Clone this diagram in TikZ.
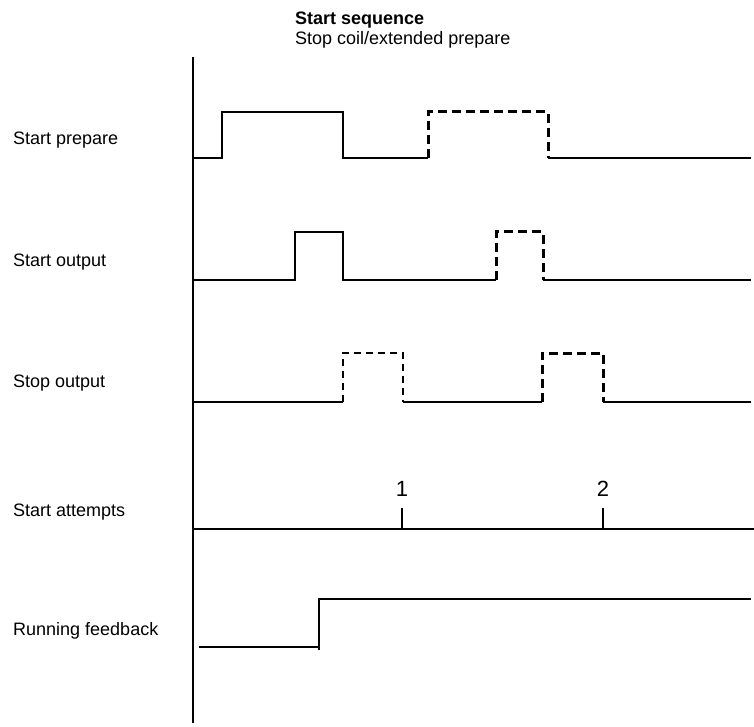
\documentclass[tikz,border=0pt]{standalone}
\usepackage{fontspec}
\setmainfont{Liberation Sans}
\begin{document}
\begin{tikzpicture}[x=1pt,y=-1pt,
  lbl/.style={anchor=base west,inner sep=0pt,font=\fontsize{18}{20}\selectfont},
  num/.style={anchor=base,inner sep=0pt,font=\fontsize{22}{24}\selectfont},
  sig/.style={line width=1.5pt},
  thickdash/.style={line width=3pt,dash pattern=on 9pt off 5pt},
  thindash/.style={line width=1.4pt,dash pattern=on 7pt off 5pt}]
\useasboundingbox (0,0) rectangle (754,727);
% title
\node[lbl,font=\fontsize{18}{20}\selectfont\bfseries] (t1) at (295,25) {Start sequence};
\node[lbl] (t2) at (295,45) {Stop coil/extended prepare};
% axis
\coordinate (axtop) at (193,57);
\coordinate (axbot) at (193,723);
\draw[sig] (axtop) -- (axbot);
% labels
\node[lbl] (l1) at (13,145) {Start prepare};
\node[lbl] (l2) at (13,266) {Start output};
\node[lbl] (l3) at (13,387) {Stop output};
\node[lbl] (l4) at (13,516) {Start attempts};
\node[lbl] (l5) at (13,635) {Running feedback};
% Start prepare
\draw[sig] (193,158) -- (222,158) -- (222,112) -- (343,112) -- (343,158) -- (428,158);
\draw[thickdash] (428,158) -- (428,112) -- (548,112) -- (548,158);
\draw[sig] (548,158) -- (751,158);
% Start output
\draw[sig] (193,280) -- (295,280) -- (295,232) -- (343,232) -- (343,280) -- (496,280);
\draw[thickdash] (496,280) -- (496,232) -- (543,232) -- (543,280);
\draw[sig] (543,280) -- (751,280);
% Stop output
\draw[sig] (193,402) -- (343,402);
\draw[thindash] (343,402) -- (343,353) -- (403,353) -- (403,402);
\draw[sig] (403,402) -- (542,402);
\draw[thickdash] (542,402) -- (542,353) -- (603,353) -- (603,402);
\draw[sig] (603,402) -- (751,402);
% Start attempts
\coordinate (a0) at (193,529);
\coordinate (a9) at (754,529);
\draw[sig] (a0) -- (a9);
\coordinate (k1) at (402,529);
\coordinate (k2) at (603,529);
\draw[sig] (k1) -- ++(0,-21);
\draw[sig] (k2) -- ++(0,-21);
\node[num] (n1) at (402,496) {1};
\node[num] (n2) at (603,496) {2};
% Running feedback
\draw[sig] (199,647) -- (319,647);
\draw[sig] (319,650) -- (319,599) -- (751,599);
\end{tikzpicture}
\end{document}
